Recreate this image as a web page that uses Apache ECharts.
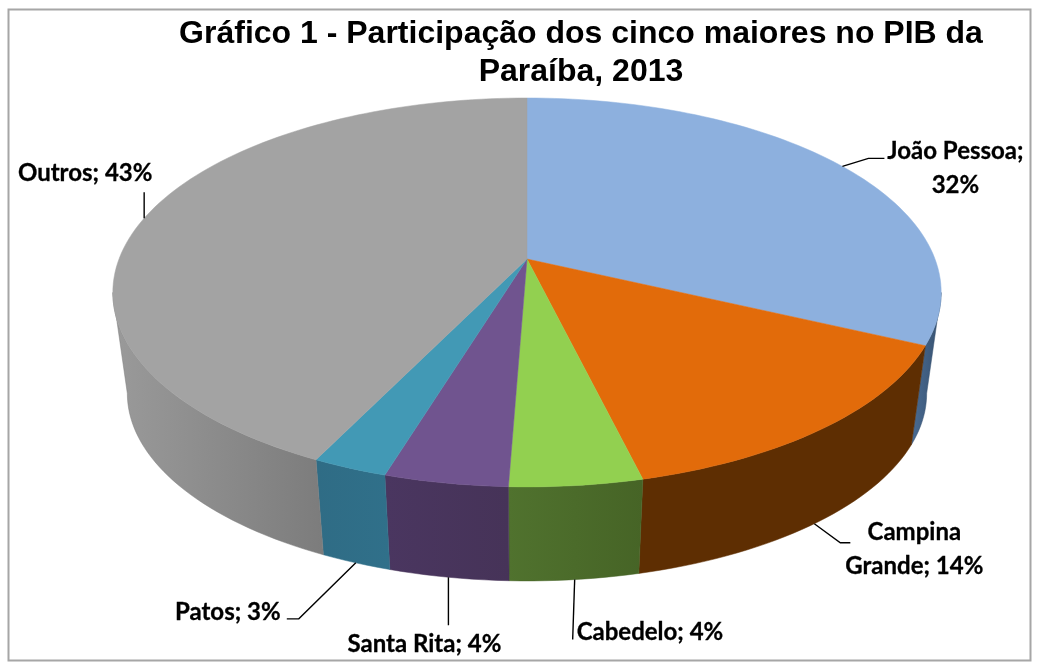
<!DOCTYPE html>
<html>
<head>
<meta charset="utf-8">
<title>Gráfico 1</title>
<script src="https://cdn.jsdelivr.net/npm/echarts@6/dist/echarts.min.js"></script>
<style>
  html, body { margin: 0; padding: 0; background: #fff; }
  #chart { width: 1038px; height: 672px; }
</style>
</head>
<body>
<div id="chart"></div>
<script>
const chartTitle = 'Gráfico 1 - Participação dos cinco maiores no PIB da\nParaíba, 2013'
const categories = ['João Pessoa', 'Campina Grande', 'Cabedelo', 'Santa Rita', 'Patos', 'Outros']
// tamanho das fatias como aparecem no desenho (os rótulos arredondados ficam em labelTexts)
const sliceValues = [32, 14.2, 4.4, 4.1, 2.5, 42.8]
const labelTexts = ['João Pessoa;\n32%', 'Campina\nGrande; 14%', 'Cabedelo; 4%', 'Santa Rita; 4%', 'Patos; 3%', 'Outros; 43%']
const topColors = ['#8db0de', '#e26b0a', '#92d050', '#70548f', '#4299b5', '#a3a3a3']
const wallColors = [
  ['#4a6c94', '#36506e'],
  ['#5e2e02', '#5e2e02'],
  ['#50722e', '#466426'],
  ['#4a3660', '#463358'],
  ['#2f6c85', '#30708a'],
  ['#9a9a9a', '#7c7c7c']
]
// deslocamento dos rótulos e das linhas de chamada em relação à borda da fatia
const labelLayout = [
  { elbow: [[26, -8], [42, -8]], text: [113, 2], align: 'center' },
  { elbow: [[26, 19], [36, 19]], text: [100, 26], align: 'center' },
  { elbow: [[-2, 60]], text: [2, 53], align: 'left' },
  { elbow: [[0, 48]], text: [-24, 67], align: 'center' },
  { elbow: [[-57, 56], [-69, 56]], text: [-128, 49], align: 'center' },
  { elbow: [[0, -26]], text: [-59, -45], align: 'center' }
]

// projeção em perspectiva do disco: t em graus, no sentido horário a partir do topo
const apex = [527, 259]
const scaleX = 408
const scaleY = 188.7
const tilt = 0.172
const baseScale = 0.965
const baseDrop = 102
// ângulo em que a borda do disco é mais larga: a parede só aparece daí para a frente
const wallStart = Math.acos(-tilt) * 180 / Math.PI

const project = (t, isBase) => {
  const rad = t * Math.PI / 180
  const down = -Math.cos(rad)
  const w = 1 - tilt * down
  const s = isBase ? baseScale : 1
  return [
    apex[0] + s * scaleX * Math.sin(rad) / w,
    apex[1] + (isBase ? baseDrop : 0) + s * scaleY * down / w
  ]
}

const total = sliceValues.reduce((a, b) => a + b, 0)
const sliceAngles = []
let sum = 0
sliceValues.forEach(v => {
  sliceAngles.push([sum / total * 360, (sum + v) / total * 360])
  sum += v
})

const arc = (from, to, isBase) => {
  const pts = []
  const n = Math.max(2, Math.ceil((to - from) / 1.5))
  for (let i = 0; i <= n; i++) {
    pts.push(project(from + (to - from) * i / n, isBase))
  }
  return pts
}

const renderWall = (params) => {
  const i = params.dataIndex
  const from = Math.max(sliceAngles[i][0], wallStart)
  const to = Math.min(sliceAngles[i][1], 360 - wallStart)
  if (to <= from) return { type: 'group', children: [] }
  const points = arc(from, to, false).concat(arc(from, to, true).reverse())
  const fill = new echarts.graphic.LinearGradient(0, 0, 1, 0, [
    { offset: 0, color: wallColors[i][0] },
    { offset: 1, color: wallColors[i][1] }
  ])
  return {
    type: 'polygon',
    shape: { points },
    style: { fill, stroke: wallColors[i][1], lineWidth: 0.5 }
  }
}

const renderTop = (params) => {
  const i = params.dataIndex
  const points = [apex].concat(arc(sliceAngles[i][0], sliceAngles[i][1], false))
  return {
    type: 'polygon',
    shape: { points },
    style: { fill: topColors[i], stroke: topColors[i], lineWidth: 0.5 }
  }
}

const renderLabel = (params) => {
  const i = params.dataIndex
  const layout = labelLayout[i]
  const t = (sliceAngles[i][0] + sliceAngles[i][1]) / 2
  // fatias da frente: a linha sai da borda de baixo da parede
  const anchor = project(t, t > 120 && t < 240)
  const line = [anchor].concat(layout.elbow.map(p => [anchor[0] + p[0], anchor[1] + p[1]]))
  return {
    type: 'group',
    children: [
      {
        type: 'polyline',
        shape: { points: line },
        style: { fill: 'none', stroke: '#000', lineWidth: 1.4 }
      },
      {
        type: 'text',
        style: {
          text: labelTexts[i],
          x: anchor[0] + layout.text[0],
          y: anchor[1] + layout.text[1],
          align: layout.align,
          verticalAlign: 'middle',
          font: 'bold 24px Lato',
          lineHeight: 34,
          fill: '#000',
          stroke: '#000',
          lineWidth: 0.3
        }
      }
    ]
  }
}

const seriesData = categories.map((name, i) => ({ name, value: sliceValues[i] }))

const myChart = echarts.init(document.getElementById('chart'))
myChart.setOption({
  animation: false,
  backgroundColor: '#fff',
  title: {
    text: chartTitle,
    left: 576,
    top: 10,
    textAlign: 'center',
    textStyle: {
      fontFamily: 'Liberation Sans',
      fontWeight: 'bold',
      fontSize: 32,
      lineHeight: 38,
      color: '#000'
    }
  },
  graphic: [
    {
      type: 'rect',
      shape: { x: 8.5, y: 9.5, width: 1022, height: 651 },
      style: { fill: 'none', stroke: '#a6a6a6', lineWidth: 2 },
      silent: true
    }
  ],
  series: [
    { type: 'custom', coordinateSystem: 'none', z: 1, data: seriesData, renderItem: renderWall },
    { type: 'custom', coordinateSystem: 'none', z: 2, data: seriesData, renderItem: renderTop },
    { type: 'custom', coordinateSystem: 'none', z: 3, data: seriesData, renderItem: renderLabel }
  ]
})
</script>
</body>
</html>
